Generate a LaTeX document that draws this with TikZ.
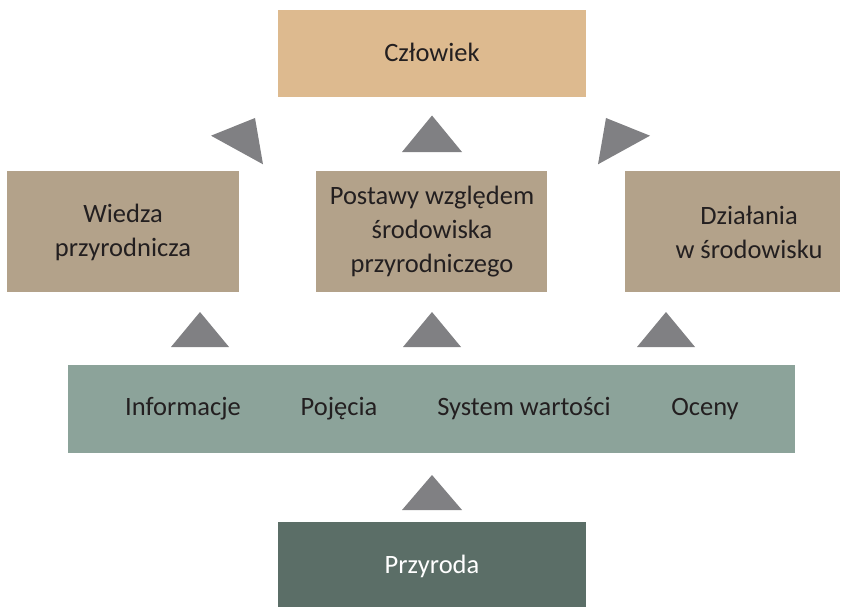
\documentclass[tikz,border=0pt]{standalone}
\usepackage{fontspec}
\setmainfont{Carlito}
\begin{document}
\definecolor{topfill}{HTML}{DDBA8F}
\definecolor{midfill}{HTML}{B3A28A}
\definecolor{bandfill}{HTML}{8CA39A}
\definecolor{basefill}{HTML}{5B6E67}
\definecolor{arrowgray}{HTML}{808083}
\definecolor{ink}{HTML}{231F20}
\begin{tikzpicture}[x=1pt,y=-1pt,
  lbl/.style={font=\fontsize{26.5}{34}\selectfont, text=ink, align=center, inner sep=0pt},
  tri/.style={fill=arrowgray, draw=none}]
\useasboundingbox (0,0) rectangle (848,607);
% coloured boxes
\fill[topfill] (278,10) rectangle (586,97);
\fill[midfill] (7,171) rectangle (239,292);
\fill[midfill] (316,171) rectangle (547,292);
\fill[midfill] (625,171) rectangle (840,292);
\fill[bandfill] (68,365) rectangle (795,453);
\fill[basefill] (278,522) rectangle (586,607);
% labels
\node[lbl] (czl) at (432,52) {Człowiek};
\node[lbl] (wie) at (123,232) {Wiedza\\przyrodnicza};
\node[lbl] (pos) at (432,232) {Postawy względem\\środowiska\\przyrodniczego};
\node[lbl] (dzi) at (749,232) {Działania\\w środowisku};
\node[lbl] (inf) at (183,409) {Informacje};
\node[lbl] (poj) at (339,409) {Pojęcia};
\node[lbl] (sys) at (524,409) {System wartości};
\node[lbl] (oce) at (705,409) {Oceny};
\node[lbl, text=white] (prz) at (432,566) {Przyroda};
% arrowheads
\fill[tri] (432,115.5) -- (402,152) -- (462,152) -- cycle;
\fill[tri] (211,135.7) -- (255,118) -- (263,164.3) -- cycle;
\fill[tri] (650,135.7) -- (606,118) -- (598,164.3) -- cycle;
\fill[tri] (200,312) -- (171,347) -- (229,347) -- cycle;
\fill[tri] (432,312) -- (403,347) -- (461,347) -- cycle;
\fill[tri] (666,312) -- (637,347) -- (695,347) -- cycle;
\fill[tri] (432,475) -- (402,510) -- (462,510) -- cycle;
\end{tikzpicture}
\end{document}
